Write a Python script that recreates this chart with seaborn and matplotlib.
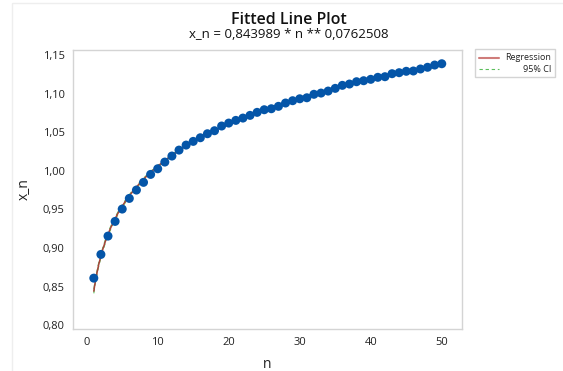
import numpy as np
import pandas as pd
import seaborn as sns
import matplotlib.pyplot as plt
from matplotlib.ticker import FuncFormatter
from matplotlib.lines import Line2D
from matplotlib.patches import Rectangle

# Data
n = np.arange(1, 51)
x_n = [0.8609, 0.8916, 0.9154, 0.9344, 0.9504, 0.9642, 0.9750, 0.9850, 0.9953, 1.0026,
       1.0113, 1.0191, 1.0268, 1.0333, 1.0381, 1.0428, 1.0480, 1.0519, 1.0580, 1.0618,
       1.0653, 1.0683, 1.0718, 1.0757, 1.0791, 1.0804, 1.0835, 1.0878, 1.0908, 1.0933,
       1.0946, 1.0991, 1.1007, 1.1033, 1.1068, 1.1107, 1.1124, 1.1154, 1.1167, 1.1185,
       1.1211, 1.1219, 1.1258, 1.1271, 1.1289, 1.1293, 1.1319, 1.1341, 1.1370, 1.1387]

# fitted model from the title
coef_a = 0.843989
coef_b = 0.0762508

legend_labels = ['Regression', '95% CI']

df = pd.DataFrame({'n': n, 'x_n': x_n})

sns.set_style('white')
plt.rcParams['font.family'] = ['Open Sans', 'DejaVu Sans']

W, H = 563, 371
fig = plt.figure(figsize=(W/100, H/100), dpi=100)
ax = fig.add_axes([73/W, 1-329/H, (462-73)/W, (329-50)/H])

# regression line and 95% CI (CI from OLS on log scale)
grid = np.linspace(1, 50, 300)
fit = coef_a * grid ** coef_b
lx, ly = np.log(n), np.log(x_n)
slope, icpt = np.polyfit(lx, ly, 1)
resid = ly - (icpt + slope * lx)
s = np.sqrt(np.sum(resid**2) / (len(n) - 2))
lg = np.log(grid)
se = s * np.sqrt(1/len(n) + (lg - lx.mean())**2 / np.sum((lx - lx.mean())**2))
lo = fit * np.exp(-2.01 * se)
hi = fit * np.exp(2.01 * se)

ax.plot(grid, lo, color='#5cbf5c', lw=0.8, ls=(0, (4, 3)), zorder=2)
ax.plot(grid, hi, color='#5cbf5c', lw=0.8, ls=(0, (4, 3)), zorder=2)
ax.plot(grid, fit, color='#a8433b', lw=1.1, zorder=2)

sns.scatterplot(data=df, x='n', y='x_n', ax=ax, color='#0455a8', s=42,
                edgecolor='none', zorder=3)

ax.set_xlim(-1.93, 52.85)
ax.set_ylim(0.795, 1.1565)
ax.set_xticks([0, 10, 20, 30, 40, 50])
ax.set_yticks(np.arange(0.80, 1.151, 0.05))
ax.yaxis.set_major_formatter(FuncFormatter(lambda v, p: f'{v:.2f}'.replace('.', ',')))
ax.tick_params(axis='both', labelsize=8, colors='#222222', length=3, width=0.8,
               color='#aaaaaa', pad=3)
for sp in ax.spines.values():
    sp.set_color('#d4d4d4')
    sp.set_linewidth(1.0)
ax.set_xlabel('n', fontsize=10, color='#222222', labelpad=6)
ax.set_ylabel('x_n', fontsize=10, color='#222222', labelpad=8)

fig.text(289/W, 1-20/H, 'Fitted Line Plot', ha='center', va='center',
         fontsize=11.5, fontweight='semibold', color='#111111')
fig.text(289/W, 1-35/H, 'x_n = 0,843989 * n ** 0,0762508', ha='center', va='center',
         fontsize=9.5, color='#111111')

# legend box drawn by hand (labels right-aligned as in the original)
fig.patches.append(Rectangle((475/W, 1-77/H), 80/W, 28/H, transform=fig.transFigure,
                             fill=False, edgecolor='#d4d4d4', lw=1.0))
fig.lines.append(Line2D([479/W, 499/W], [1-58/H, 1-58/H], transform=fig.transFigure,
                        color='#c0504d', lw=1.5, alpha=0.75))
fig.lines.append(Line2D([479/W, 499/W], [1-69/H, 1-69/H], transform=fig.transFigure,
                        color='#5cbf5c', lw=0.8, ls=(0, (3, 2.5))))
fig.text(551/W, 1-58/H, legend_labels[0], ha='right', va='center', fontsize=6.5, color='#222222')
fig.text(551/W, 1-69/H, legend_labels[1], ha='right', va='center', fontsize=6.5, color='#222222')

# faint outer frame
fig.patches.append(Rectangle((12/W, -0.1), 1.2, 1 - 3/H + 0.1, transform=fig.transFigure,
                             fill=False, edgecolor='#eeeeee', lw=1.0, zorder=0))

fig.savefig('out.png', dpi=100)
